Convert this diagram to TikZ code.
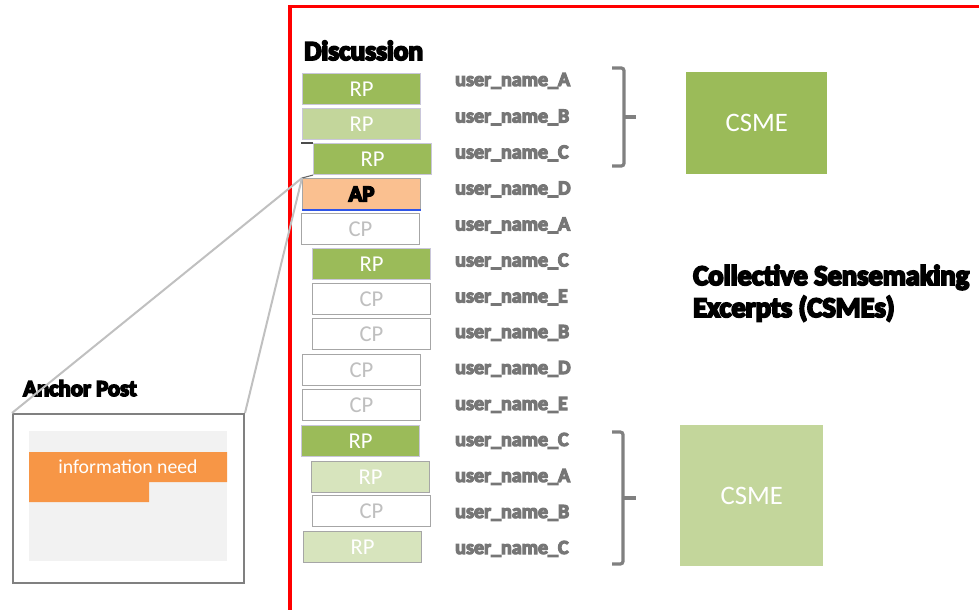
\documentclass[tikz,border=0pt]{standalone}
\usepackage{fontspec}
\setmainfont{Carlito}
\newfontfamily\heavy{Carlito}[BoldFeatures={FakeBold=7}]
\newfontfamily\heavylbl{Carlito}[BoldFeatures={FakeBold=6}]

\definecolor{rpdark}{HTML}{9BBB59}
\definecolor{rpmid}{HTML}{C3D69B}
\definecolor{rplight}{HTML}{D7E4BD}
\definecolor{apfill}{HTML}{FAC090}
\definecolor{infofill}{HTML}{F79646}
\definecolor{panelgray}{HTML}{F2F2F2}
\definecolor{cptext}{HTML}{BFBFBF}
\definecolor{cpedge}{HTML}{A6A6A6}
\definecolor{rpedge}{HTML}{C9C6DA}
\definecolor{lblgray}{HTML}{767676}
\definecolor{bracegray}{HTML}{808080}
\definecolor{zoomgray}{HTML}{C0C0C0}
\definecolor{frame}{HTML}{FF0000}
\definecolor{apline}{HTML}{2F55E8}

\tikzset{
  post/.style={anchor=north west, minimum width=88.5pt, minimum height=23.25pt,
    inner sep=0pt, line width=0.8pt, font=\fontsize{17}{17}\selectfont},
  rpdark/.style={post, fill=rpdark, draw=rpedge, text=white},
  rpmid/.style={post, fill=rpmid, draw=rpedge, text=white},
  rplight/.style={post, fill=rplight, draw=cpedge, text=white},
  cppost/.style={post, fill=white, draw=cpedge, text=cptext},
  appost/.style={post, fill=apfill, draw=cpedge, text=black,
    font=\heavy\bfseries\fontsize{17}{17}\selectfont},
  lbl/.style={anchor=base west, inner sep=0pt, text=lblgray,
    font=\heavylbl\bfseries\fontsize{15}{15}\selectfont},
  heading/.style={anchor=base west, inner sep=0pt, text=black, align=left},
  csme/.style={anchor=north west, inner sep=0pt, text=white,
    font=\fontsize{20}{20}\selectfont},
  bracket/.style={draw=bracegray, line width=2.4pt, rounded corners=2pt},
  zoomline/.style={draw=zoomgray, line width=1.5pt},
}

\begin{document}
\begin{tikzpicture}[x=0.75pt, y=-0.75pt]
\useasboundingbox (0,0) rectangle (979,610);
\clip (0,0) rectangle (979,610);

% frame around the discussion area
\draw[frame, line width=2.4pt] (1000,6.5) -- (290,6.5) -- (290,611.5) -- (1000,611.5);

\node[heading, font=\heavy\bfseries\fontsize{20.5}{20}\selectfont] (disc) at (304,60) {Discussion};

% posts of the discussion thread
\node[rpdark]  (r1)  at (302,73)  {RP};
\node[rpmid]   (r2)  at (302,108) {RP};
\node[rpdark]  (r3)  at (313,143) {RP};
\node[appost]  (r4)  at (302,178) {AP};
\node[cppost]  (r5)  at (301,213) {CP};
\node[rpdark]  (r6)  at (312,248) {RP};
\node[cppost]  (r7)  at (312,283) {CP};
\node[cppost]  (r8)  at (312,318) {CP};
\node[cppost]  (r9)  at (302,354) {CP};
\node[cppost]  (r10) at (302,389) {CP};
\node[rpdark]  (r11) at (301,425) {RP};
\node[rplight] (r12) at (311,461) {RP};
\node[cppost]  (r13) at (312,495) {CP};
\node[rplight] (r14) at (303,531) {RP};

% blue rule under the anchor post and the small reply stub
\draw[apline, line width=1pt] (r4.south west) -- (r4.south east);
\coordinate (stub) at (301,143);
\draw[black!70, line width=1pt] (stub) -- (r3.north west);
\draw[black!60, line width=0.8pt] (r3.south west) -- (r4.north west);

% authors
\node[lbl] (u1)  at (455,86)    {user\_name\_A};
\node[lbl] (u2)  at (455,122.5) {user\_name\_B};
\node[lbl] (u3)  at (455,158.5) {user\_name\_C};
\node[lbl] (u4)  at (455,194.5) {user\_name\_D};
\node[lbl] (u5)  at (455,230.5) {user\_name\_A};
\node[lbl] (u6)  at (455,266.5) {user\_name\_C};
\node[lbl] (u7)  at (455,302.5) {user\_name\_E};
\node[lbl] (u8)  at (455,338)   {user\_name\_B};
\node[lbl] (u9)  at (455,374)   {user\_name\_D};
\node[lbl] (u10) at (455,410)   {user\_name\_E};
\node[lbl] (u11) at (455,446)   {user\_name\_C};
\node[lbl] (u12) at (455,482)   {user\_name\_A};
\node[lbl] (u13) at (455,518)   {user\_name\_B};
\node[lbl] (u14) at (455,554)   {user\_name\_C};

% brackets grouping the excerpts
\draw[bracket] (612,68) -- (624,68) -- (624,166) -- (612,166);
\draw[bracket] (624,117) -- (636,117);
\draw[bracket] (612,432) -- (623,432) -- (623,564) -- (612,564);
\draw[bracket] (623,498) -- (636,498);

% excerpt boxes
\node[csme, fill=rpdark, minimum width=105.75pt, minimum height=76.5pt] (c1) at (686,72) {CSME};
\node[csme, fill=rpmid, minimum width=107.25pt, minimum height=105.75pt] (c2) at (680,425) {CSME};

\node[heading, font=\heavy\bfseries\fontsize{21.3}{24}\selectfont] (cs) at (693,317)
  {Collective Sensemaking\\Excerpts (CSMEs)};

% enlarged view of the anchor post
\node[heading, font=\heavy\bfseries\fontsize{17}{17}\selectfont] (aptitle) at (23,396) {Anchor Post};
\node[anchor=north west, draw=bracegray, line width=1.5pt, fill=white, inner sep=0pt,
  minimum width=173.25pt, minimum height=126.75pt] (apbox) at (12,413) {};
\fill[panelgray] (29,431) rectangle (227,561);
\fill[infofill] (29,452) -- (227,452) -- (227,482) -- (149,482) -- (149,502) -- (29,502) -- cycle;
\node[anchor=base, inner sep=0pt, text=white, font=\fontsize{14.8}{14.8}\selectfont] (need) at (128,473) {information need};

\draw[zoomline] (r4.north west) -- (apbox.north west);
\draw[zoomline] (r4.north west) -- (apbox.north east);
\end{tikzpicture}
\end{document}
